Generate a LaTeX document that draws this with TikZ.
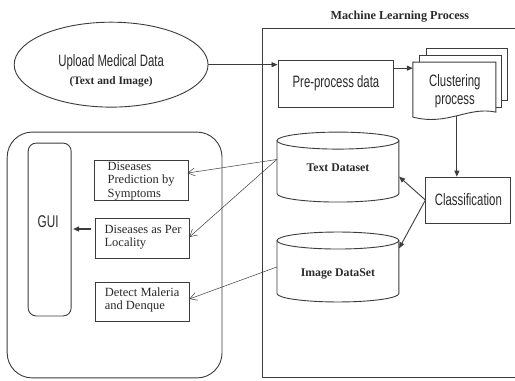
\documentclass[tikz,border=0pt]{standalone}
\usepackage{fontspec}
\setmainfont{Liberation Serif}
\newfontfamily\narrowsans[FakeStretch=0.69]{Liberation Sans}
\usetikzlibrary{shapes.geometric,arrows.meta,calc}
\definecolor{ln}{HTML}{3C3C3C}
\definecolor{tx}{HTML}{2A2A2A}
\tikzset{
  every path/.style={draw=ln},
  sanslbl/.style={font=\narrowsans\fontsize{16.5}{18}\selectfont, text=tx, inner sep=0pt},
  boldlbl/.style={font=\bfseries\fontsize{11.8}{13}\selectfont, text=tx, inner sep=0pt},
  boxlbl/.style={font=\fontsize{12.5}{13.5}\selectfont, text=tx, align=left, inner sep=0pt},
  plainbox/.style={draw=ln, line width=0.9pt, rectangle, inner sep=0pt},
  thickln/.style={draw=ln, line width=0.9pt},
  fillarrow/.style={thickln, -{Triangle[length=6pt,width=5pt]}},
  thinarrow/.style={draw=ln, line width=0.5pt, -{Straight Barb[length=7pt,width=8pt]}},
}
\begin{document}
\begin{tikzpicture}[x=1pt,y=-1pt]
\useasboundingbox (0,0) rectangle (515,380);
\fill[white] (0,0) rectangle (515,380);

% Upload ellipse
\node[ellipse, thickln, minimum width=194pt, minimum height=85pt, inner sep=0pt] (upload) at (111,64.5) {};
\node[sanslbl] (upltxt) at (111,62) {Upload Medical Data};
\node[boldlbl, font=\bfseries\fontsize{11.4}{13}\selectfont] (uplsub) at (111,82) {(Text and Image)};

% Machine learning box
\node[boldlbl, font=\bfseries\fontsize{12.2}{13}\selectfont] (mltitle) at (400,16) {Machine Learning Process};
\node[plainbox, minimum width=258pt, minimum height=350pt] (mlbox) at (391,203) {};

% Pre-process
\node[plainbox, minimum width=116pt, minimum height=47pt, sanslbl] (pre) at (336,83.5) {Pre-process data};

% Clustering (multi-document)
\draw[thickln, fill=white] (427,55) -- (427,48) -- (508,48) -- (508,100) -- (502,100);
\draw[thickln, fill=white] (420,62) -- (420,55) -- (502,55) -- (502,107) -- (496,107);
\draw[thickln, fill=white] (413,62) -- (496,62) -- (496,112) .. controls (468,106) and (448,126) .. (413,117) -- cycle;
\node[sanslbl, align=center, font=\narrowsans\fontsize{16.5}{17.5}\selectfont] (clust) at (455,91) {Clustering\\process};
\coordinate (clustbot) at (457,116);
\coordinate (clustin) at (413,68);

% Classification
\node[plainbox, minimum width=85pt, minimum height=46pt, sanslbl] (class) at (468.5,200) {Classification};

% Cylinders
\draw[thickln] (277,140.5) -- (277,193.5) arc[start angle=180, end angle=0, x radius=61, y radius=8.5] -- (399,140.5);
\draw[thickln] (338,140.5) ellipse[x radius=61, y radius=8.5];
\node[boldlbl, minimum width=122pt, minimum height=70pt] (tds) at (338,168) {Text Dataset};

\draw[thickln] (277,240.5) -- (277,293.5) arc[start angle=180, end angle=0, x radius=61, y radius=8.5] -- (399,240.5);
\draw[thickln] (338,240.5) ellipse[x radius=61, y radius=8.5];
\node[inner sep=0pt, minimum width=122pt, minimum height=70pt] (ids) at (338,267) {};
\node[boldlbl] (idstxt) at (338,274) {Image DataSet};

% Left panel
\node[draw=ln, line width=0.9pt, rounded corners=25pt, minimum width=215pt, minimum height=246pt, inner sep=0pt] (panel) at (114.5,255) {};
\node[draw=ln, line width=0.9pt, rounded corners=8pt, minimum width=43pt, minimum height=173pt, inner sep=0pt] (gui) at (49.5,229.5) {};
\node[sanslbl, font=\narrowsans\fontsize{17}{18}\selectfont] (guitxt) at (48,222) {GUI};

\node[plainbox, line width=0.7pt, minimum width=94pt, minimum height=40pt] (b1) at (141,180) {};
\node[boxlbl] (b1txt) at (141,181) {Diseases\\Prediction by\\Symptoms};
\node[plainbox, line width=0.7pt, minimum width=94pt, minimum height=40pt] (b2) at (142,238) {};
\node[boxlbl] (b2txt) at (143,237) {Diseases as Per\\Locality};
\node[plainbox, line width=0.7pt, minimum width=94pt, minimum height=39pt] (b3) at (142,301.5) {};
\node[boxlbl] (b3txt) at (142,300) {Detect Maleria\\and Denque};

% Connectors
\coordinate (guiarrstart) at (91,229);
\draw[fillarrow] (upload.east) -- (pre.west |- upload.east);
\draw[fillarrow] (pre.east |- clustin) -- (clustin);
\draw[fillarrow] (clustbot) -- (clustbot |- class.north);
\draw[fillarrow] (class.west) -- (tds.352);
\draw[fillarrow] (class.west) -- (ids.17);
\draw[fillarrow, line width=1.3pt, shorten >=1.5pt] (guiarrstart) -- (gui.east |- guiarrstart);
\draw[thinarrow] (tds.172) -- ($(b1.east)+(-1,-7)$);
\draw[thinarrow] (tds.172) -- ($(b2.east)+(0,-1)$);
\draw[thinarrow] (ids.west) -- ($(b3.east)+(0,-2.5)$);
\end{tikzpicture}
\end{document}
